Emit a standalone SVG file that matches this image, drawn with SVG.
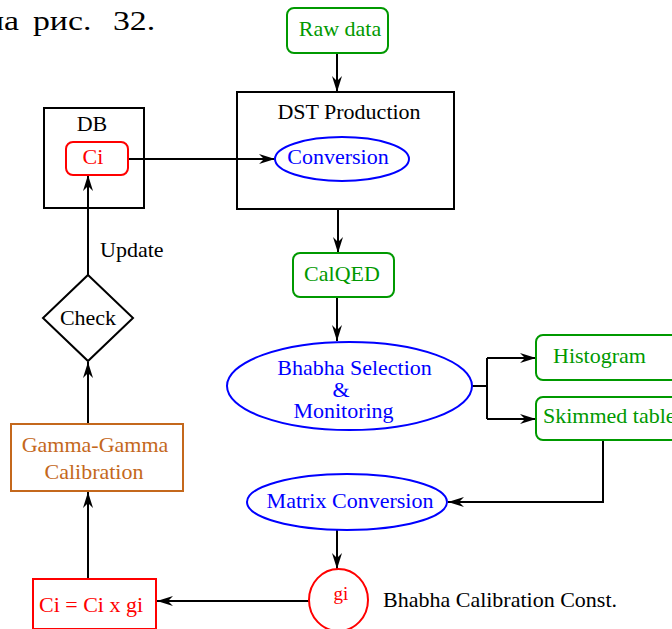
<svg xmlns="http://www.w3.org/2000/svg" width="672" height="629" viewBox="0 0 672 629">
<defs>
<marker id="ah" markerUnits="userSpaceOnUse" viewBox="0 0 16 10" markerWidth="16" markerHeight="10" refX="16" refY="5" orient="auto">
<path d="M0,0 L16,5 L0,10 L5,5 z" fill="#000"/>
</marker>
</defs>
<style>
text{font-family:"Liberation Serif","Times New Roman",serif;font-size:22px}
.c{text-anchor:middle}
.g{fill:#009900}.gs{stroke:#009900}
.b{fill:#0000ff}.bs{stroke:#0000ff}
.r{fill:#ff0000}.rs{stroke:#ff0000}
.o{fill:#c4681c}.os{stroke:#c4681c}
.k{fill:#000}
.box{fill:none;stroke-width:2}
.ln{fill:none;stroke:#000;stroke-width:2}
.arr{marker-end:url(#ah)}
</style>
<rect width="672" height="629" fill="#fff"/>
<text style="font-size:27px" class="k" transform="scale(1.25,1)"><tspan x="-11.2" y="30">на</tspan><tspan x="26.4" y="30">рис.</tspan><tspan x="90.4" y="30">32.</tspan></text>

<g id="connectors">
<path class="ln arr" d="M337,53 V92"/>
<path class="ln arr" d="M128,159 H275"/>
<path class="ln arr" d="M338,209 V253"/>
<path class="ln arr" d="M337,297 V341"/>
<path class="ln" d="M472,386 H487 M487,358 V419"/>
<path class="ln arr" d="M487,358 H536"/>
<path class="ln arr" d="M487,419 H536"/>
<path class="ln arr" d="M603,440 V502 H448"/>
<path class="ln arr" d="M337,530 V569"/>
<path class="ln arr" d="M309,601 H157"/>
<path class="ln arr" d="M88,579 V492"/>
<path class="ln arr" d="M88,424 V362"/>
<path class="ln arr" d="M88,275 V175"/>
</g>

<g id="rawdata">
<rect class="box gs" x="287" y="8" width="101" height="45" rx="7"/>
<text class="c g" x="340" y="36">Raw data</text>
</g>
<g id="dst">
<rect class="box" stroke="#000" x="237" y="92" width="217" height="117"/>
<text class="c k" x="349" y="119">DST Production</text>
</g>
<g id="conversion">
<ellipse class="box bs" cx="342" cy="159" rx="67" ry="22" stroke-width="2.5"/>
<text class="c b" x="338" y="164">Conversion</text>
</g>
<g id="db">
<rect class="box" stroke="#000" x="44" y="108" width="100" height="100"/>
<text class="c k" x="92" y="131">DB</text>
</g>
<g id="ci">
<rect class="box rs" x="66" y="142" width="62" height="33" rx="7"/>
<text class="c r" x="93" y="164">Ci</text>
</g>
<g id="update-label">
<text class="k" x="100" y="257">Update</text>
</g>
<g id="check">
<path class="box" stroke="#000" d="M88,275 L133,318 L88,361 L43,318 Z"/>
<text class="c k" x="88" y="325">Check</text>
</g>
<g id="gamma">
<rect class="box os" x="11" y="424" width="172" height="67"/>
<text class="c o" x="95" y="452">Gamma-Gamma</text>
<text class="c o" x="94" y="479">Calibration</text>
</g>
<g id="cibox">
<rect class="box rs" x="33" y="579" width="123" height="50"/>
<text class="c r" x="91" y="612">Ci = Ci x gi</text>
</g>
<g id="calqed">
<rect class="box gs" x="293" y="253" width="101" height="44" rx="7"/>
<text class="c g" x="342" y="281">CalQED</text>
</g>
<g id="bhabha">
<ellipse class="box bs" cx="349.5" cy="386" rx="122.5" ry="44" stroke-width="2.5"/>
<text class="c b" x="354.5" y="375">Bhabha Selection</text>
<text class="c b" x="341" y="397">&amp;</text>
<text class="c b" x="343.5" y="418">Monitoring</text>
</g>
<g id="histogram">
<rect class="box gs" x="536" y="335" width="150" height="45" rx="7"/>
<text class="g" x="553" y="363">Histogram</text>
</g>
<g id="skimmed">
<rect class="box gs" x="536" y="397" width="150" height="43" rx="7"/>
<text class="g" x="543" y="423">Skimmed table</text>
</g>
<g id="matrix">
<ellipse class="box bs" cx="347" cy="502" rx="100" ry="28" stroke-width="2.5"/>
<text class="c b" x="350" y="508">Matrix Conversion</text>
</g>
<g id="gi">
<ellipse class="box rs" cx="338.5" cy="600" rx="29.5" ry="31"/>
<text class="c r" x="341" y="600" style="font-size:19px">gi</text>
</g>
<g id="bhabha-const-label">
<text class="k" x="383" y="607">Bhabha Calibration Const.</text>
</g>
</svg>
